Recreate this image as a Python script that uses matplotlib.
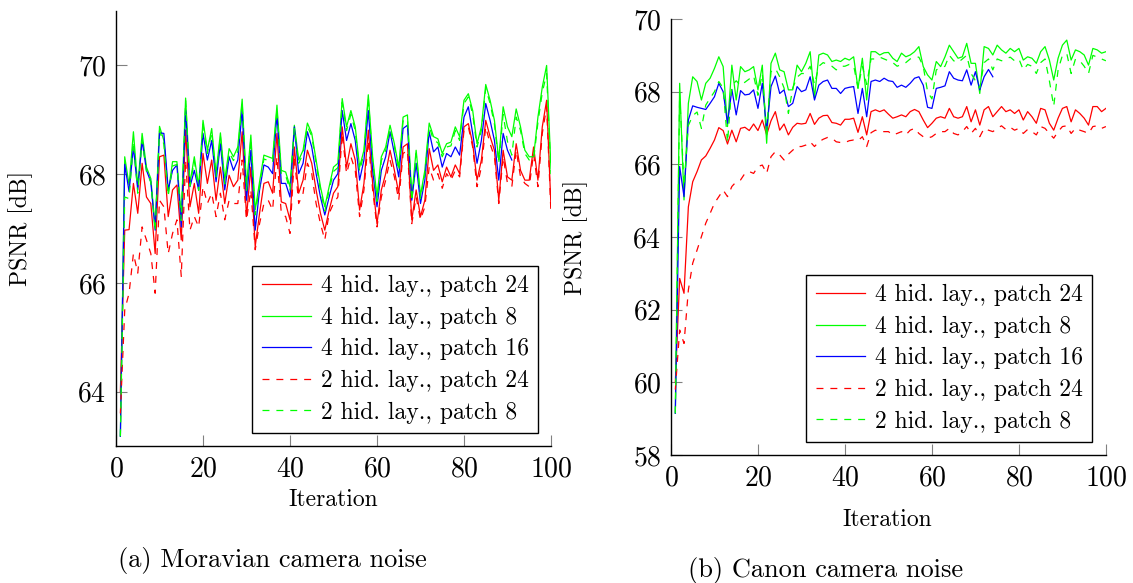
import numpy as np
import matplotlib
matplotlib.use("Agg")
import matplotlib.pyplot as plt

plt.rcParams['font.family'] = 'cmr10'
plt.rcParams['mathtext.fontset'] = 'cm'
plt.rcParams['axes.formatter.use_mathtext'] = True
plt.rcParams['lines.scale_dashes'] = False

labels = ["4 hid. lay., patch 24", "4 hid. lay., patch 8", "4 hid. lay., patch 16",
          "2 hid. lay., patch 24", "2 hid. lay., patch 8"]

# --- (a) Moravian camera noise ---
mor_r4_24 = [64.0, 66.97, 66.98, 67.83, 67.28, 68.20, 67.58, 67.46, 66.54, 68.32,
             68.35, 67.22, 67.71, 67.80, 66.79, 68.81, 67.40, 67.83, 67.28, 68.38,
             67.83, 68.26, 67.52, 68.13, 67.46, 67.98, 67.77, 67.89, 68.78, 67.22,
             68.13, 66.67, 67.28, 67.83, 67.86, 67.65, 68.75, 67.49, 67.46, 67.16,
             68.50, 67.65, 67.89, 68.44, 68.20, 67.71, 67.28, 66.97, 67.34, 67.65,
             67.77, 68.87, 68.13, 68.56, 68.26, 67.34, 67.83, 68.81, 67.83, 67.09,
             67.71, 68.01, 68.44, 68.07, 67.65, 68.50, 68.56, 67.16, 67.71, 67.22,
             67.52, 68.47, 68.07, 68.17, 67.86, 68.13, 67.95, 68.17, 68.01, 68.87,
             68.93, 68.56, 67.89, 68.26, 68.99, 68.69, 68.44, 67.52, 68.44, 67.95,
             67.89, 68.56, 68.07, 67.89, 67.89, 68.50, 67.89, 68.87, 69.36, 67.40]
mor_g4_8 = [63.18, 68.32, 67.80, 68.78, 67.77, 68.75, 68.13, 67.92, 67.03, 68.88,
            68.62, 67.65, 68.23, 68.23, 67.22, 69.40, 67.83, 68.32, 67.77, 68.99,
            68.44, 68.84, 68.01, 68.76, 67.89, 68.47, 68.32, 68.50, 69.38, 67.77,
            68.72, 67.34, 67.86, 68.35, 68.32, 68.29, 69.27, 68.07, 68.04, 67.77,
            68.90, 68.26, 68.44, 68.94, 68.75, 68.26, 67.77, 67.40, 67.77, 68.13,
            68.20, 69.39, 68.87, 69.17, 68.87, 68.13, 68.44, 69.46, 68.32, 67.58,
            68.32, 68.50, 68.90, 68.56, 68.13, 69.05, 69.09, 67.58, 68.44, 67.61,
            68.07, 68.94, 68.69, 68.65, 68.38, 68.56, 68.59, 68.87, 68.69, 69.36,
            69.48, 69.17, 68.56, 68.87, 69.65, 69.36, 68.99, 68.26, 69.24, 68.87,
            68.69, 69.20, 68.87, 68.44, 68.32, 68.32, 69.05, 69.60, 70.00, 68.10]
mor_b4_16 = [63.18, 68.18, 67.68, 68.50, 67.71, 68.62, 68.07, 67.86, 66.97, 68.76,
             68.75, 67.71, 68.07, 68.17, 67.03, 69.17, 67.77, 68.07, 67.71, 68.75,
             68.26, 68.62, 67.86, 68.56, 67.71, 68.32, 68.07, 68.26, 69.17, 67.52,
             68.44, 66.97, 67.71, 68.17, 68.13, 68.01, 69.11, 67.83, 67.83, 67.58,
             68.87, 68.01, 68.20, 68.78, 68.50, 68.01, 67.58, 67.25, 67.58, 67.89,
             68.01, 69.17, 68.62, 68.93, 68.62, 67.89, 68.26, 69.17, 68.07, 67.40,
             68.07, 68.32, 68.78, 68.38, 67.95, 68.84, 68.90, 67.52, 68.20, 67.46,
             67.89, 68.78, 68.41, 68.50, 68.13, 68.38, 68.32, 68.50, 68.35, 69.05,
             69.24, 68.75, 68.20, 68.62, 69.30, 68.99, 68.62, 67.89, 68.75, 68.44,
             68.26]
mor_r2_24 = [63.6, 65.50, 65.81, 66.54, 66.18, 67.03, 66.79, 66.54, 65.81, 67.52,
             67.40, 66.54, 66.91, 67.16, 66.12, 68.26, 66.97, 67.22, 67.03, 67.77,
             67.46, 67.65, 67.22, 67.65, 67.16, 67.52, 67.46, 67.46, 68.26, 67.16,
             67.71, 66.61, 67.09, 67.46, 67.52, 67.34, 68.32, 67.28, 67.22, 66.91,
             68.32, 67.46, 67.65, 68.20, 68.01, 67.46, 67.09, 66.79, 67.28, 67.46,
             67.58, 68.75, 68.01, 68.32, 68.07, 67.22, 67.71, 68.62, 67.71, 67.03,
             67.58, 67.89, 68.26, 67.95, 67.52, 68.38, 68.44, 67.09, 67.58, 67.16,
             67.40, 68.13, 67.89, 68.01, 67.74, 68.01, 67.89, 68.07, 67.95, 68.81,
             68.87, 68.50, 67.77, 68.13, 68.87, 68.56, 68.32, 67.46, 68.32, 67.83,
             67.77, 68.44, 67.95, 67.83, 67.77, 68.38, 67.77, 68.75, 69.24, 67.28]
mor_g2_8 = [63.18, 67.58, 67.55, 68.60, 67.65, 68.62, 68.05, 67.85, 66.95, 68.80,
            68.55, 67.60, 68.15, 68.18, 67.15, 69.35, 67.78, 68.25, 67.70, 68.92,
            68.38, 68.78, 67.95, 68.70, 67.82, 68.40, 68.25, 68.42, 69.32, 67.70,
            68.65, 67.25, 67.78, 68.28, 68.25, 68.22, 69.20, 68.00, 67.98, 67.70,
            68.85, 68.20, 68.38, 68.88, 68.70, 68.20, 67.70, 67.32, 67.70, 68.05,
            68.12, 69.32, 68.80, 69.10, 68.80, 68.05, 68.38, 69.40, 68.25, 67.50,
            68.25, 68.44, 68.84, 68.50, 68.06, 68.98, 69.02, 67.50, 68.38, 67.55,
            68.00, 68.88, 68.62, 68.58, 68.32, 68.50, 68.52, 68.80, 68.62, 69.30,
            69.42, 69.10, 68.50, 68.80, 69.58, 69.30, 68.92, 68.20, 69.10, 68.60,
            68.35, 69.05, 68.80, 68.38, 68.26, 68.26, 68.95, 69.50, 69.85, 68.00]

# --- (b) Canon camera noise ---
can_r4_24 = [60.0, 62.86, 62.45, 64.83, 65.52, 65.80, 66.12, 66.23, 66.44, 66.67,
             67.01, 66.93, 66.56, 66.94, 66.62, 66.99, 67.02, 66.93, 67.11, 66.93,
             67.22, 66.81, 67.20, 67.45, 66.94, 67.11, 66.81, 67.02, 67.13, 67.11,
             67.13, 67.40, 67.10, 67.27, 67.34, 67.35, 67.15, 67.13, 67.08, 67.24,
             67.24, 67.27, 66.88, 67.31, 66.81, 67.45, 67.50, 67.45, 67.50, 67.38,
             67.27, 67.31, 67.36, 67.31, 67.45, 67.51, 67.45, 67.22, 67.01, 67.13,
             67.27, 67.31, 67.27, 67.54, 67.31, 67.27, 67.31, 67.59, 67.17, 67.50,
             67.08, 67.50, 67.59, 67.31, 67.45, 67.59, 67.45, 67.50, 67.40, 67.50,
             67.22, 67.45, 67.31, 67.13, 67.54, 67.50, 67.13, 66.94, 67.27, 67.54,
             67.59, 67.17, 67.50, 67.40, 67.27, 67.08, 67.59, 67.59, 67.45, 67.54]
can_g4_8 = [59.15, 68.23, 65.02, 67.68, 68.41, 68.28, 67.77, 68.23, 68.37, 68.64,
            68.96, 68.69, 67.04, 68.73, 67.77, 68.69, 68.55, 68.60, 68.69, 68.05,
            68.73, 66.58, 68.78, 69.06, 68.60, 68.55, 68.05, 68.05, 68.73, 68.55,
            68.78, 69.10, 67.82, 69.01, 69.06, 69.01, 68.83, 68.87, 68.83, 68.92,
            68.87, 68.96, 68.09, 68.92, 67.77, 69.10, 69.10, 69.01, 69.07, 69.08,
            68.92, 68.83, 69.06, 68.96, 69.01, 69.10, 69.24, 68.69, 68.46, 68.32,
            68.83, 68.69, 68.96, 69.28, 69.10, 68.92, 68.96, 69.33, 68.78, 68.78,
            67.95, 69.24, 69.19, 69.01, 69.28, 69.15, 69.06, 69.19, 69.10, 69.19,
            68.87, 68.96, 68.92, 68.78, 69.10, 69.24, 68.87, 68.32, 68.92, 69.28,
            69.42, 68.87, 69.15, 69.10, 69.01, 68.73, 69.19, 69.15, 69.06, 69.10]
can_b4_16 = [59.15, 65.94, 65.11, 67.22, 67.61, 67.57, 67.54, 67.51, 67.68, 67.86,
             68.23, 68.00, 67.13, 68.06, 67.36, 68.03, 67.91, 67.93, 68.05, 67.54,
             68.23, 66.94, 68.14, 68.43, 67.95, 68.05, 67.59, 67.68, 68.14, 68.00,
             68.05, 68.41, 67.77, 68.18, 68.28, 68.32, 68.09, 68.09, 67.95, 68.09,
             68.12, 68.14, 67.40, 68.09, 67.31, 68.28, 68.32, 68.28, 68.37, 68.30,
             68.28, 68.12, 68.18, 68.12, 68.23, 68.37, 68.41, 68.18, 67.57, 67.54,
             68.09, 68.12, 68.16, 68.55, 68.37, 68.32, 68.30, 68.60, 68.18, 68.55,
             68.05, 68.41, 68.61, 68.41]
can_r2_24 = [59.8, 61.44, 61.07, 62.54, 63.28, 63.64, 64.01, 64.38, 64.65, 64.93,
             65.11, 65.29, 65.11, 65.39, 65.52, 65.57, 65.75, 65.80, 65.75, 65.94,
             65.98, 65.75, 66.21, 66.35, 66.26, 66.12, 66.28, 66.39, 66.49, 66.49,
             66.53, 66.62, 66.49, 66.62, 66.69, 66.74, 66.72, 66.62, 66.60, 66.60,
             66.65, 66.67, 66.65, 66.76, 66.49, 66.87, 66.94, 66.90, 66.90, 66.90,
             66.81, 66.85, 66.90, 66.81, 66.94, 66.99, 66.85, 66.76, 66.72, 66.76,
             66.85, 66.90, 66.90, 66.99, 66.85, 66.81, 66.90, 67.04, 66.85, 66.99,
             66.76, 66.99, 66.94, 66.90, 66.99, 67.06, 66.96, 67.02, 66.94, 66.99,
             66.85, 66.96, 66.90, 66.81, 67.04, 66.99, 66.85, 66.72, 66.90, 67.04,
             67.06, 66.85, 66.99, 66.94, 66.90, 66.85, 67.04, 67.06, 66.99, 67.04]
can_g2_8 = [59.15, 67.95, 65.40, 67.07, 67.34, 67.44, 66.99, 67.63, 67.82, 68.00,
            68.28, 68.10, 66.60, 68.17, 68.30, 68.17, 68.26, 68.35, 68.44, 67.90,
            68.50, 66.90, 68.55, 68.64, 68.41, 68.10, 67.40, 68.10, 68.40, 68.50,
            68.50, 68.70, 68.20, 68.70, 68.80, 68.75, 68.70, 68.60, 68.70, 68.70,
            68.75, 68.72, 68.10, 68.70, 68.20, 68.90, 68.90, 68.95, 68.90, 68.85,
            68.80, 68.70, 68.75, 68.80, 68.90, 68.95, 68.95, 68.70, 68.00, 67.80,
            68.60, 68.65, 68.70, 69.00, 68.85, 68.80, 68.90, 69.00, 68.50, 68.30,
            68.10, 68.80, 68.90, 68.60, 68.90, 68.85, 68.90, 68.95, 68.85, 68.90,
            68.60, 68.75, 68.70, 68.50, 68.80, 68.90, 68.30, 67.60, 68.60, 69.00,
            69.05, 68.50, 68.90, 68.85, 68.70, 68.50, 69.00, 68.95, 68.90, 68.85]

styles = [("#ff0000", "-"), ("#00ff00", "-"), ("#0000ff", "-"),
          ("#ff0000", "--"), ("#00ff00", "--")]


def draw_panel(ax, series, ylim, yticks):
    for ys, (col, ls), lab in zip(series, styles, labels):
        xs = np.arange(1, len(ys) + 1)
        line, = ax.plot(xs, ys, color=col, lw=0.9, label=lab)
        if ls == "--":
            line.set_dashes((5, 5))
    ax.set_xlim(0, 100)
    ax.set_ylim(*ylim)
    ax.set_xticks(np.arange(0, 101, 20))
    ax.set_yticks(yticks)
    for s in ("top", "right"):
        ax.spines[s].set_visible(False)
    for s in ("left", "bottom"):
        ax.spines[s].set_linewidth(1.0)
    ax.tick_params(direction="in", length=8, width=0.8, color="#808080",
                   labelsize=20, pad=7)
    ax.set_xlabel("Iteration", fontsize=17)
    ax.set_ylabel("PSNR [dB]", fontsize=17)


fig = plt.figure(figsize=(11.33, 5.83), dpi=100)
ax1 = fig.add_axes([0.1024, 0.235, 0.3839, 0.746])
ax2 = fig.add_axes([0.5922, 0.2196, 0.3839, 0.7478])

draw_panel(ax1, [mor_r4_24, mor_g4_8, mor_b4_16, mor_r2_24, mor_g2_8], (63, 71), [64, 66, 68, 70])
draw_panel(ax2, [can_r4_24, can_g4_8, can_b4_16, can_r2_24, can_g2_8], (58, 70), np.arange(58, 71, 2))

ax1.yaxis.set_label_coords(-0.191, 0.5)
ax2.yaxis.set_label_coords(-0.191, 0.5)
ax1.xaxis.set_label_coords(0.5, -0.099)
ax2.xaxis.set_label_coords(0.497, -0.124)

for ax, anchor in ((ax1, (538 / 1133, 1 - 433 / 583)), (ax2, (1092 / 1133, 1 - 442 / 583))):
    leg = ax.legend(loc="lower right", bbox_to_anchor=anchor, bbox_transform=fig.transFigure,
                    borderaxespad=0, fontsize=17, handlelength=2.1, labelspacing=0.4,
                    handletextpad=0.4, borderpad=0.4, fancybox=False, framealpha=1)
    leg.get_frame().set_edgecolor("black")
    leg.get_frame().set_linewidth(1.0)

fig.text(272 / 1133, 1 - 560 / 583, "(a) Moravian camera noise", fontsize=19, ha="center", va="center")
fig.text(826 / 1133, 1 - 570 / 583, "(b) Canon camera noise", fontsize=19, ha="center", va="center")

fig.savefig("out.png", dpi=100)
